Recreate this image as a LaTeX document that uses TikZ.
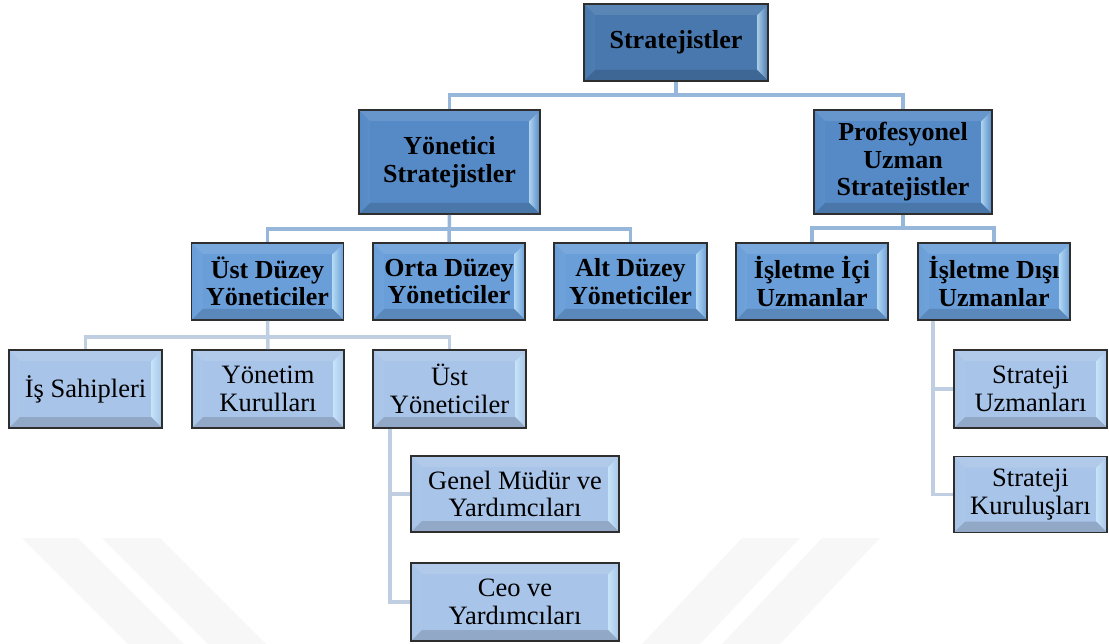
\documentclass[tikz,border=0pt]{standalone}
\usepackage{fontspec}
\setmainfont{Liberation Serif}
\usetikzlibrary{calc}

% fills of the four levels
\definecolor{lvA}{RGB}{72,120,174}
\definecolor{lvB}{RGB}{86,138,198}
\definecolor{lvC}{RGB}{106,158,216}
\definecolor{lvD}{RGB}{168,196,232}
\definecolor{bevlight}{RGB}{210,242,255}
\definecolor{linkA}{RGB}{150,182,218}
\definecolor{linkB}{RGB}{192,206,226}
\definecolor{wmark}{RGB}{247,247,247}

\tikzset{
  bevelbox/.style={
    draw=black!82, line width=1.8pt, fill=#1, align=center, inner sep=0pt,
    font=\fontsize{26.5}{27.5}\selectfont,
    path picture={
      % left and right bevel strips
      \fill[left color=#1, right color=#1!30!bevlight]
        let \p1=(path picture bounding box.south west),
            \p2=(path picture bounding box.north east) in
        (\x1,\y1) -- (\x1+11pt,\y1+11pt) -- (\x1+11pt,\y2-11pt) -- (\x1,\y2) -- cycle;
      \fill[left color=#1!30!bevlight, right color=#1]
        let \p1=(path picture bounding box.south west),
            \p2=(path picture bounding box.north east) in
        (\x2,\y1) -- (\x2-11pt,\y1+11pt) -- (\x2-11pt,\y2-11pt) -- (\x2,\y2) -- cycle;
      % top and bottom bevel strips
      \fill[#1!90!white]
        let \p1=(path picture bounding box.south west),
            \p2=(path picture bounding box.north east) in
        (\x1,\y2) -- (\x1+11pt,\y2-11pt) -- (\x2-11pt,\y2-11pt) -- (\x2,\y2) -- cycle;
      \fill[#1!86!black]
        let \p1=(path picture bounding box.south west),
            \p2=(path picture bounding box.north east) in
        (\x1,\y1) -- (\x1+11pt,\y1+11pt) -- (\x2-11pt,\y1+11pt) -- (\x2,\y1) -- cycle;
    }},
  boldtext/.style={font=\fontsize{26}{27.5}\selectfont\bfseries},
  link/.style={draw=linkA, line width=3.5pt},
  linklow/.style={draw=linkB, line width=3.5pt},
  wm/.style={fill=wmark, draw=none},
}

\begin{document}
\begin{tikzpicture}[x=1pt, y=-1pt]
\useasboundingbox (0,0) rectangle (1109,644);

% faint background stripes
\fill[wm] (22,538) -- (78,538) -- (184,644) -- (128,644) -- cycle;
\fill[wm] (102,538) -- (160,538) -- (266,644) -- (208,644) -- cycle;
\fill[wm] (742,538) -- (800,538) -- (700,644) -- (642,644) -- cycle;
\fill[wm] (822,538) -- (880,538) -- (780,644) -- (722,644) -- cycle;

% level 1
\node[bevelbox=lvA, boldtext, minimum width=184pt, minimum height=77pt] (top) at (676,42.5) {Stratejistler};

% level 2
\node[bevelbox=lvB, boldtext, minimum width=181pt, minimum height=104pt] (yon) at (449.5,162) {Yönetici\\Stratejistler};
\node[bevelbox=lvB, boldtext, minimum width=178pt, minimum height=104pt] (prof) at (903,162) {Profesyonel\\Uzman\\Stratejistler};

% level 3
\node[bevelbox=lvC, boldtext, minimum width=152pt, minimum height=77pt] (ust) at (267.5,281.5) {Üst Düzey\\Yöneticiler};
\node[bevelbox=lvC, boldtext, minimum width=152pt, minimum height=77pt] (orta) at (449,281.5) {Orta Düzey\\Yöneticiler};
\node[bevelbox=lvC, boldtext, minimum width=153pt, minimum height=77pt] (alt) at (630.5,281.5) {Alt Düzey\\Yöneticiler};
\node[bevelbox=lvC, boldtext, minimum width=152pt, minimum height=77pt] (ici) at (812,281.5) {İşletme İçi\\Uzmanlar};
\node[bevelbox=lvC, boldtext, minimum width=152pt, minimum height=77pt] (disi) at (994,281.5) {İşletme Dışı\\Uzmanlar};

% level 4
\node[bevelbox=lvD, minimum width=153pt, minimum height=78pt] (sahip) at (85.5,389) {İş Sahipleri};
\node[bevelbox=lvD, minimum width=152pt, minimum height=78pt] (kurul) at (268,389) {Yönetim\\Kurulları};
\node[bevelbox=lvD, minimum width=153pt, minimum height=78pt] (ustyon) at (449.5,389) {Üst\\Yöneticiler};
\node[bevelbox=lvD, minimum width=153pt, minimum height=78pt] (suzm) at (1030.5,389) {Strateji\\Uzmanları};

% level 5
\node[bevelbox=lvD, minimum width=208pt, minimum height=76pt] (genel) at (515,494) {Genel Müdür ve\\Yardımcıları};
\node[bevelbox=lvD, minimum width=208pt, minimum height=78pt] (ceo) at (515,602) {Ceo ve\\Yardımcıları};
\node[bevelbox=lvD, minimum width=153pt, minimum height=76pt] (skur) at (1030.5,494.5) {Strateji\\Kuruluşları};

% connectors
\draw[link] (top.south) -- ++(0,13) -| (yon.north);
\draw[link] (top.south) -- ++(0,13) -| (prof.north);

\draw[link] (yon.south) -- ++(0,14) -| (ust.north);
\draw[link] (yon.south) -- (orta.north);
\draw[link] (yon.south) -- ++(0,14) -| (alt.north);

\draw[link] (prof.south) -- ++(0,13) -| (ici.north);
\draw[link] (prof.south) -- ++(0,13) -| (disi.north);

\draw[linklow] (ust.south) -- ++(0,16) -| (sahip.north);
\draw[linklow] (ust.south) -- (kurul.north);
\draw[linklow] (ust.south) -- ++(0,16) -| (ustyon.north);

\coordinate (uyA) at ([xshift=18pt]ustyon.south west);
\draw[linklow] (uyA) |- (genel.west);
\draw[linklow] (uyA) |- (ceo.west);

\coordinate (dsA) at ([xshift=16pt]disi.south west);
\draw[linklow] (dsA) |- (suzm.west);
\draw[linklow] (dsA) |- (skur.west);
\end{tikzpicture}
\end{document}
